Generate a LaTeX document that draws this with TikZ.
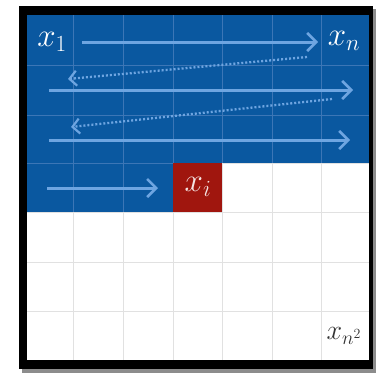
\documentclass[tikz,border=0pt]{standalone}
\usepackage{fix-cm}
\usetikzlibrary{arrows.meta}
\definecolor{gridblue}{RGB}{10,88,160}
\definecolor{gridred}{RGB}{160,22,14}
\definecolor{arrowblue}{RGB}{110,165,225}
\definecolor{lineonblue}{RGB}{60,118,182}
\definecolor{lineonwhite}{RGB}{225,225,225}
\tikzset{
  solidarrow/.style={draw=arrowblue,line width=3pt,-{Straight Barb[length=9pt,width=18pt,line width=2.6pt]}},
  dotarrow/.style={draw=arrowblue,line width=2.3pt,dash pattern=on 2pt off 2pt,-{Straight Barb[length=7pt,width=15pt,line width=2.2pt]}},
  whitelab/.style={text=white,font=\fontsize{33}{36}\selectfont,inner sep=0pt},
}
\begin{document}
\begin{tikzpicture}[x=1pt,y=-1pt]
\useasboundingbox (0,0) rectangle (382,375);
\fill[white] (0,0) rectangle (382,375);
% shadow and frame
\fill[black!45] (22,9) rectangle (376,373);
\fill[black] (19,6) rectangle (373,369);
% white field
\fill[white] (27,15) rectangle (369,360);
% blue region
\fill[gridblue] (27,15) rectangle (369,163);
\fill[gridblue] (27,163) rectangle (173,212);
% grid lines
\begin{scope}
\clip (27,15) rectangle (369,360);
\foreach \x in {73,123,173,222,272,321} \draw[lineonwhite,line width=0.8pt] (\x,163) -- (\x,360);
\foreach \y in {212,262,311} \draw[lineonwhite,line width=0.8pt] (27,\y) -- (369,\y);
\draw[lineonwhite,line width=0.8pt] (173,163) -- (369,163);
\foreach \x in {73,123,173,222,272,321} \draw[lineonblue,line width=0.8pt] (\x,15) -- (\x,163);
\foreach \x in {73,123} \draw[lineonblue,line width=0.8pt] (\x,163) -- (\x,212);
\foreach \y in {65,115} \draw[lineonblue,line width=0.8pt] (27,\y) -- (369,\y);
\draw[lineonblue,line width=0.8pt] (27,163) -- (173,163);
\end{scope}
% red cell
\fill[gridred] (173,163) rectangle (222,212);
% labels
\node[whitelab] (x1) at (52,42) {$x_1$};
\node[whitelab] (xn) at (344,41) {$x_n$};
\node[whitelab,text=white!88!gridred] (xi) at (198,187) {$x_i$};
\node[inner sep=0pt,font=\fontsize{28}{32}\selectfont,text=black!80] (xn2) at (344,336) {$x_{n^2}$};
% arrow end points
\coordinate (a1s) at (82,42);  \coordinate (a1e) at (318,42);
\coordinate (d1s) at (307,57); \coordinate (d1e) at (68,79);
\coordinate (a2s) at (49,90);  \coordinate (a2e) at (353,90);
\coordinate (d2s) at (332,99); \coordinate (d2e) at (71,127);
\coordinate (a3s) at (49,140); \coordinate (a3e) at (350,140);
\coordinate (a4s) at (47,188); \coordinate (a4e) at (158,188);
\draw[solidarrow] (a1s) -- (a1e);
\draw[dotarrow] (d1s) -- (d1e);
\draw[solidarrow] (a2s) -- (a2e);
\draw[dotarrow] (d2s) -- (d2e);
\draw[solidarrow] (a3s) -- (a3e);
\draw[solidarrow] (a4s) -- (a4e);
\end{tikzpicture}
\end{document}
